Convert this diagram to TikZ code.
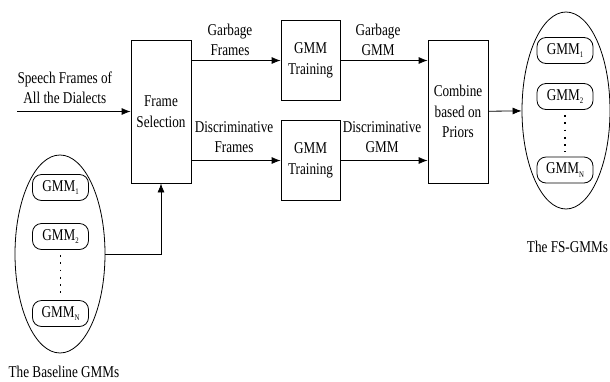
\documentclass[tikz,border=0pt]{standalone}
\usepackage{fontspec}
\setmainfont{Liberation Serif}[FakeStretch=0.8]
\usetikzlibrary{shapes.geometric, arrows.meta}
\newcommand{\gmmsub}[1]{\raisebox{-3.5pt}{\fontsize{8.5}{8.5}\selectfont #1}}

\begin{document}
\begin{tikzpicture}[x=1pt, y=-1pt, ->, >={Latex[length=9pt,width=7pt]}, line width=0.8pt,
  font=\fontsize{16.5}{20.5}\selectfont,
  bloque/.style={draw, minimum width=60pt, minimum height=143pt, align=center, inner sep=0pt},
  entreno/.style={draw, minimum width=59pt, minimum height=80pt, align=center, inner sep=0pt},
  modelo/.style={draw, rounded corners=9pt, minimum width=56pt, minimum height=26pt, inner sep=0pt},
  grupo/.style={draw, ellipse, minimum width=88pt, minimum height=197pt, inner sep=0pt},
  texto/.style={align=center, inner sep=1pt},
  puntos/.style={-, line width=1.8pt, dash pattern=on 1.8pt off 5.5pt, shorten >=5pt, shorten <=5pt}]
\useasboundingbox (0,0) rectangle (610,381);
% Nodos
\node [bloque] (FS) at (161,111.5) {Frame\\Selection};
\node [entreno] (T1) at (310.5,60.5) {GMM\\Training};
\node [entreno] (T2) at (310.5,160.5) {GMM\\Training};
\node [bloque] (CB) at (458,111.5) {Combine\\based on\\Priors};
\coordinate (IN) at (17,111.5);
% FS-GMMs
\node [grupo] (FG) at (566,110.5) {};
\node [modelo] (F1) at (565,50.5) {GMM\gmmsub{1}};
\node [modelo] (F2) at (565,96.5) {GMM\gmmsub{2}};
\node [modelo] (FN) at (565,170) {GMM\gmmsub{N}};
\node [texto] (LFS) at (567.5,247) {The FS-GMMs};
% Baseline GMMs
\node [grupo, minimum width=90pt, minimum height=198pt] (BG) at (60,254) {};
\node [modelo] (B1) at (60.5,187.5) {GMM\gmmsub{1}};
\node [modelo] (B2) at (60.5,236.5) {GMM\gmmsub{2}};
\node [modelo] (BN) at (60.5,313.5) {GMM\gmmsub{N}};
\node [texto] (LBG) at (64,372) {The Baseline GMMs};
% Flechas
\draw (IN) -- (FS.west |- IN) node [texto, midway, above=6pt, xshift=-9pt] {Speech Frames of\\All the Dialects};
\draw (FS.east |- T1.west) -- (T1.west) node [texto, midway, above=3pt, xshift=-6pt] {Garbage\\Frames};
\draw (FS.east |- T2.west) -- (T2.west) node [texto, midway, above=6pt, xshift=-2pt] {Discriminative\\Frames};
\draw (T1.east) -- (CB.west |- T1.east) node [texto, midway, above=3pt, xshift=-6pt] {Garbage\\GMM};
\draw (T2.east) -- (CB.west |- T2.east) node [texto, midway, above=6pt, xshift=-2pt] {Discriminative\\GMM};
\draw (CB) -- (FG);
\draw (BG.east) -| (FS.south);
% Puntos
\draw [puntos] (F2.south) -- (FN.north);
\draw [puntos] (B2.south) -- (BN.north);
\end{tikzpicture}
\end{document}
